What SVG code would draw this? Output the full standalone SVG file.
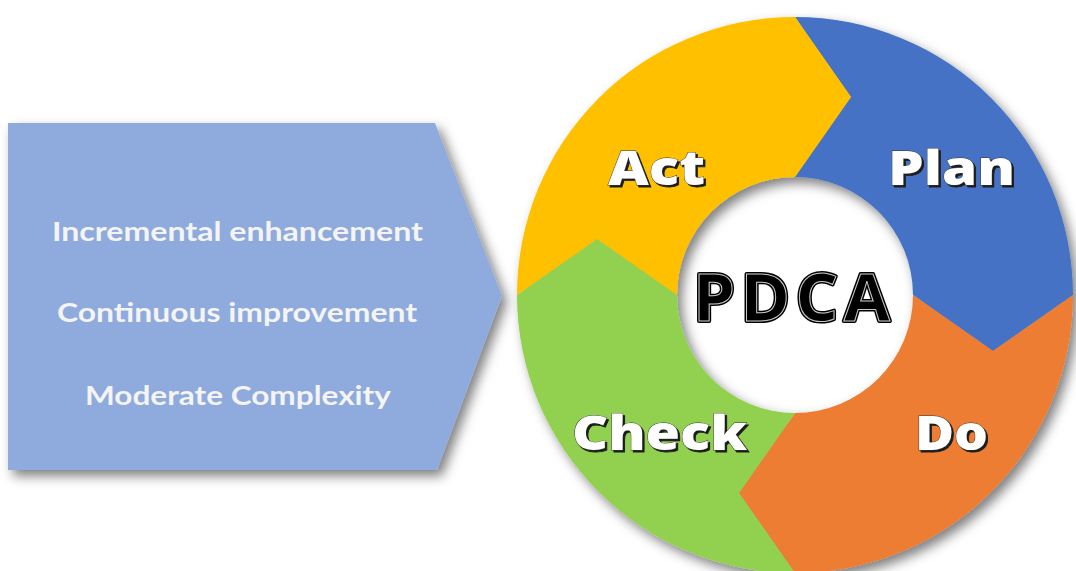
<svg xmlns="http://www.w3.org/2000/svg" width="1076" height="571" viewBox="0 0 1076 571">
  <defs>
    <filter id="shadow" x="-10%" y="-10%" width="125%" height="125%">
      <feDropShadow dx="5" dy="6" stdDeviation="6" flood-color="#000" flood-opacity="0.5"/>
    </filter>
    <filter id="lblShadow" x="-10%" y="-20%" width="130%" height="150%">
      <feDropShadow dx="2" dy="2" stdDeviation="0.6" flood-color="#1a1a1a" flood-opacity="1"/>
    </filter>
    <style>
      .side { font-family: Lato, "Open Sans", "Liberation Sans", sans-serif; font-weight: 700; font-size: 27px; fill: #F4F4F4; }
      .lbl { font-family: "Open Sans", "Liberation Sans", sans-serif; font-weight: 800; font-size: 48px; fill: #FFFFFF; stroke: #333; stroke-width: 0.8; paint-order: stroke; filter: url(#lblShadow); }
      .pdca { font-family: "Open Sans", "Liberation Sans", sans-serif; font-weight: 700; font-size: 67px; }
    </style>
  </defs>
  <rect width="1076" height="571" fill="#FFFFFF"/>

  <g id="left-arrow">
    <polygon points="8,123 435,123 502,296 437,470 8,470" fill="#8FAADC" filter="url(#shadow)"/>
    <text class="side" x="52" y="241" textLength="371" lengthAdjust="spacingAndGlyphs">Incremental enhancement</text>
    <text class="side" x="57" y="322" textLength="360" lengthAdjust="spacingAndGlyphs">Continuous improvement</text>
    <text class="side" x="85" y="405" textLength="306" lengthAdjust="spacingAndGlyphs">Moderate Complexity</text>
  </g>

  <g id="cycle" filter="url(#shadow)">
    <path id="plan-shape" d="M795,17 A278,278 0 0 1 1073,295 L993,351 L913,295 A118,118 0 0 0 795,177 L851,97 Z" fill="#4472C4"/>
    <path id="do-shape" d="M1073,295 A278,278 0 0 1 795,573 L739,493 L795,413 A118,118 0 0 0 913,295 L993,351 Z" fill="#ED7D31"/>
    <path id="check-shape" d="M795,573 A278,278 0 0 1 517,295 L597,239 L677,295 A118,118 0 0 0 795,413 L739,493 Z" fill="#92D050"/>
    <path id="act-shape" d="M517,295 A278,278 0 0 1 795,17 L851,97 L795,177 A118,118 0 0 0 677,295 L597,239 Z" fill="#FFC000"/>
  </g>

  <g id="plan">
    <text class="lbl" x="888" y="185" textLength="127" lengthAdjust="spacingAndGlyphs">Plan</text>
  </g>
  <g id="do">
    <text class="lbl" x="915" y="450" textLength="73" lengthAdjust="spacingAndGlyphs">Do</text>
  </g>
  <g id="check">
    <text class="lbl" x="572" y="450" textLength="175" lengthAdjust="spacingAndGlyphs">Check</text>
  </g>
  <g id="act">
    <text class="lbl" x="608" y="185" textLength="97" lengthAdjust="spacingAndGlyphs">Act</text>
  </g>

  <g id="center">
    <text class="pdca" x="693" y="321" textLength="197" lengthAdjust="spacing" fill="#000" stroke="#000" stroke-width="4" stroke-linejoin="round">PDCA</text>
    <text class="pdca" x="693" y="321" textLength="197" lengthAdjust="spacing" fill="#000" stroke="#C8C8C8" stroke-width="1">PDCA</text>
  </g>

  <g id="connectors"/>
</svg>
